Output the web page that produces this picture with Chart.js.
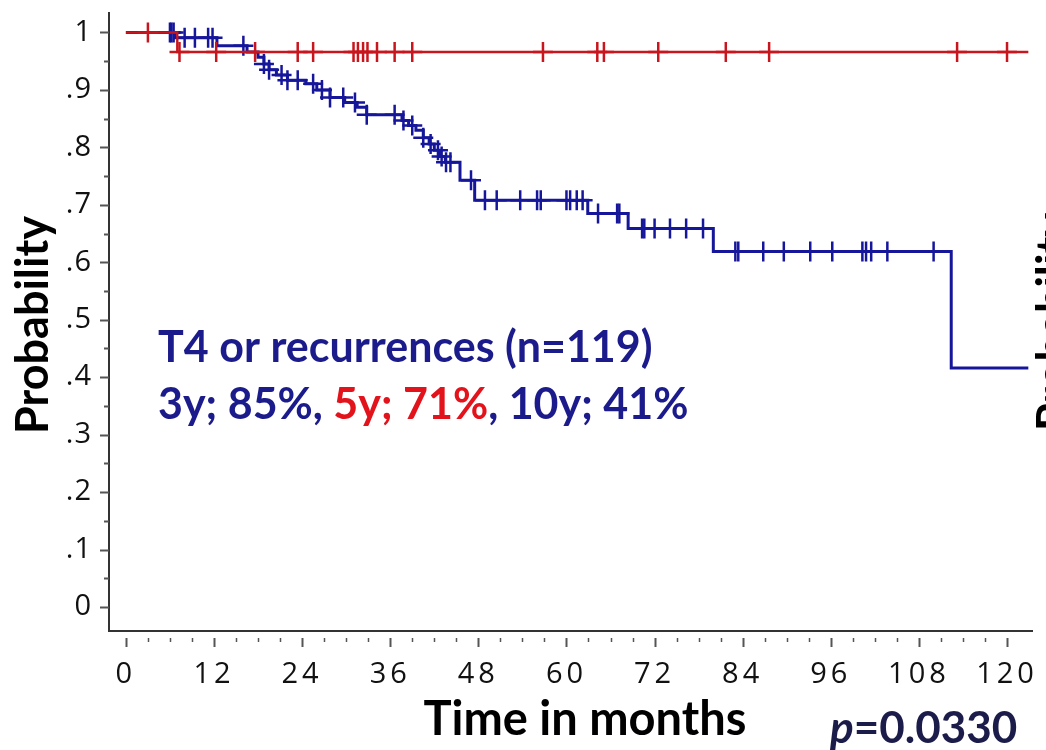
<!DOCTYPE html>
<html><head><meta charset="utf-8">
<script src="https://cdn.jsdelivr.net/npm/chart.js@4.4.1/dist/chart.umd.min.js"></script>
<style>html,body{margin:0;padding:0;background:#fff;}</style>
</head><body>
<canvas id="c" width="1046" height="750" style="display:block;width:1046px;height:750px"></canvas>
<script>
// ---- data ----
const xTickValues = [0, 12, 24, 36, 48, 60, 72, 84, 96, 108, 120];
const xTickLabels = ['0', '12', '24', '36', '48', '60', '72', '84', '96', '108', '120'];
const yTickValues = [0, 0.1, 0.2, 0.3, 0.4, 0.5, 0.6, 0.7, 0.8, 0.9, 1];
const yTickLabels = ['0', '.1', '.2', '.3', '.4', '.5', '.6', '.7', '.8', '.9', '1'];

// red group: step times and survival after each step
const redStepTimes = [0, 7.0, 122.9];
const redStepSurv  = [1, 0.966, 0.966];
const redCensorTimes = [3.0, 7.3, 12.3, 17.6, 23.4, 25.5, 31.0, 31.6, 32.3, 32.9, 34.2, 36.6, 39.0,
  56.8, 64.2, 65.1, 72.5, 81.7, 87.6, 113.2, 120.0];

// blue group (T4 or recurrences)
const blueStepTimes = [0, 6.7, 12.4, 16.5, 18.0, 18.8, 19.5, 20.5, 22.0, 24.5, 26.0, 27.8, 29.8, 31.5, 32.8,
  37.6, 38.5, 39.5, 40.5, 41.3, 42.0, 42.8, 43.5, 45.5, 47.5, 62.9, 68.4, 80.0, 112.4, 122.9];
const blueStepSurv  = [1, 0.991, 0.977, 0.966, 0.957, 0.945, 0.935, 0.926, 0.917, 0.911, 0.900, 0.887, 0.878, 0.870, 0.857,
  0.847, 0.838, 0.830, 0.817, 0.806, 0.795, 0.784, 0.774, 0.743, 0.708, 0.685, 0.659, 0.619, 0.416, 0.416];
const blueCensorTimes = [6.0, 6.2, 6.5, 8.0, 9.4, 11.2, 11.8, 16.0, 18.8, 19.5, 21.2, 22.0, 23.4, 25.5, 26.7, 27.8,
  29.6, 31.2, 32.8, 36.6, 37.8, 39.0, 40.5, 41.5, 42.5, 43.0, 43.6, 44.2, 47.0, 48.9, 50.5, 53.7, 56.0, 56.5,
  60.0, 60.5, 61.4, 62.2, 64.3, 66.9, 67.2, 70.3, 70.6, 72.0, 74.1, 76.3, 78.6, 83.0, 83.4, 86.8, 89.6, 93.2,
  96.2, 100.3, 100.8, 101.5, 103.7, 110.0];

const titleY = 'Probability';
const titleX = 'Time in months';
const annot1 = 'T4 or recurrences (n=119)';
const annot2Parts = [['3y; 85%, ', 'navy'], ['5y; 71%', 'red'], [', 10y; 41%', 'navy']];
const pValueText = ['p', '=0.0330'];

// ---- helpers ----
function stepPoints(times, surv) { return times.map((t, i) => ({x: t, y: surv[i]})); }
function survAt(times, surv, t) {
  let s = surv[0];
  for (let i = 0; i < times.length; i++) { if (times[i] <= t) s = surv[i]; }
  return s;
}
function censorPoints(ct, times, surv) { return ct.map(t => ({x: t, y: survAt(times, surv, t)})); }

const BLUE = '#16169a', RED = '#c8161e', NAVY = '#1b1b8c', TRED = '#e3131b';
const TICKFONT = "'Open Sans', 'DejaVu Sans', sans-serif";
const BOLDFONT = "Lato, 'Open Sans', sans-serif";
const LETTER_SPACING = {x: '4px', y: '1px'};

const decorPlugin = {
  id: 'kmDecor',
  afterLayout(chart) {
    for (const id of ['x', 'y']) {
      const s = chart.scales[id];
      if (s && !s._lsWrapped) {
        const orig = s.drawLabels;
        s.drawLabels = function (ca) {
          const c = this.ctx; c.save(); c.letterSpacing = LETTER_SPACING[id];
          orig.call(this, ca); c.restore();
        };
        s._lsWrapped = true;
      }
    }
  },
  afterDraw(chart) {
    const ctx = chart.ctx, xs = chart.scales.x, ys = chart.scales.y;
    ctx.save();
    ctx.letterSpacing = '0px';
    // x ticks (below the axis line, with a gap)
    ctx.strokeStyle = '#555';
    for (let v = 0; v <= 120; v += 3) {
      const px = Math.round(xs.getPixelForValue(v)) + 0.5;
      const major = v % 12 === 0;
      ctx.lineWidth = major ? 2 : 1.5;
      ctx.beginPath();
      ctx.moveTo(px, xs.top + 7);
      ctx.lineTo(px, xs.top + (major ? 16 : 11));
      ctx.stroke();
    }
    // y ticks (left of the axis)
    for (let k = 0; k <= 20; k++) {
      const v = k / 20;
      const py = Math.round(ys.getPixelForValue(v)) + 0.5;
      const major = k % 2 === 0;
      ctx.lineWidth = 2;
      ctx.beginPath();
      ctx.moveTo(ys.right - (major ? 9 : 5), py);
      ctx.lineTo(ys.right, py);
      ctx.stroke();
    }
    // axis titles
    ctx.fillStyle = '#000';
    ctx.font = 'bold 45px ' + BOLDFONT;
    ctx.textAlign = 'center';
    ctx.textBaseline = 'middle';
    ctx.save(); ctx.translate(33, 325); ctx.rotate(-Math.PI / 2); ctx.fillText(titleY, 0, 0); ctx.restore();
    ctx.save(); ctx.translate(1054, 322); ctx.rotate(-Math.PI / 2); ctx.fillText(titleY, 0, 0); ctx.restore();
    ctx.font = 'bold 47px ' + BOLDFONT;
    ctx.fillText(titleX, 585, 720);
    // p value
    ctx.textAlign = 'left';
    ctx.fillStyle = '#1c1c4a';
    ctx.font = 'italic bold 44px ' + BOLDFONT;
    ctx.fillText(pValueText[0], 830, 729);
    const pw = ctx.measureText(pValueText[0]).width;
    ctx.font = 'bold 44px ' + BOLDFONT;
    ctx.fillText(pValueText[1], 830 + pw, 729);
    // annotation
    ctx.font = 'bold 43px ' + BOLDFONT;
    ctx.fillStyle = NAVY;
    ctx.fillText(annot1, 158, 348);
    let ax = 158;
    for (const [txt, col] of annot2Parts) {
      ctx.fillStyle = col === 'red' ? TRED : NAVY;
      ctx.fillText(txt, ax, 405);
      ax += ctx.measureText(txt).width;
    }
    ctx.restore();
  }
};

function noPad(s) { s.paddingTop = 0; s.paddingBottom = 0; s.paddingLeft = 0; s.paddingRight = 0; }

new Chart(document.getElementById('c'), {
  type: 'scatter',
  data: {
    datasets: [
      {label: 'T4 or recurrences', data: stepPoints(blueStepTimes, blueStepSurv), showLine: true, stepped: 'before',
       borderColor: BLUE, borderWidth: 3, pointRadius: 0, fill: false, order: 2},
      {label: 'Other', data: stepPoints(redStepTimes, redStepSurv), showLine: true, stepped: 'before',
       borderColor: RED, borderWidth: 2.4, pointRadius: 0, fill: false, order: 1},
      {label: 'T4 censored', data: censorPoints(blueCensorTimes, blueStepTimes, blueStepSurv), showLine: false,
       pointStyle: 'cross', pointRadius: 10, borderColor: BLUE, borderWidth: 2.5, order: 2},
      {label: 'Other censored', data: censorPoints(redCensorTimes, redStepTimes, redStepSurv), showLine: false,
       pointStyle: 'cross', pointRadius: 10, borderColor: RED, borderWidth: 2.5, order: 1}
    ]
  },
  options: {
    responsive: false,
    animation: false,
    devicePixelRatio: 1,
    layout: {padding: {top: 12, right: 14, left: 0, bottom: 0}},
    plugins: {legend: {display: false}, tooltip: {enabled: false}},
    scales: {
      x: {
        type: 'linear', min: -2.3, max: 123.4,
        afterBuildTicks: s => { s.ticks = xTickValues.map(v => ({value: v})); },
        afterFit: s => { s.height = 119; noPad(s); },
        grid: {display: false, drawTicks: false},
        border: {display: true, color: '#333', width: 2},
        ticks: {autoSkip: false, maxRotation: 0, padding: 26, color: '#111',
          font: {family: TICKFONT, size: 29, lineHeight: 1.2},
          callback: (v, i) => xTickLabels[i]}
      },
      y: {
        type: 'linear', min: -0.0417, max: 1.0348,
        afterBuildTicks: s => { s.ticks = yTickValues.map(v => ({value: v})); },
        afterFit: s => { s.width = 109; noPad(s); },
        grid: {display: false, drawTicks: false},
        border: {display: true, color: '#333', width: 2},
        ticks: {autoSkip: false, padding: 17, color: '#111',
          font: {family: TICKFONT, size: 29, lineHeight: 1.2},
          callback: (v, i) => yTickLabels[i]}
      }
    }
  },
  plugins: [decorPlugin]
});
</script>
</body></html>
